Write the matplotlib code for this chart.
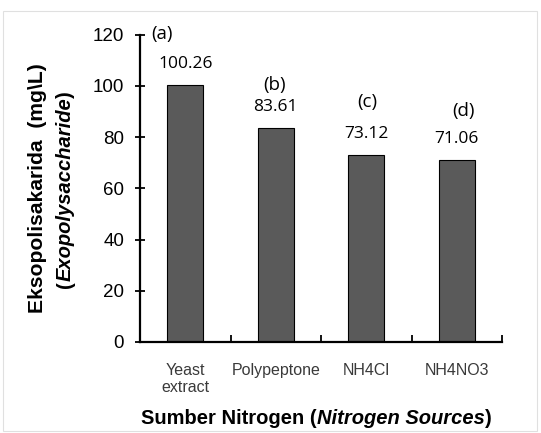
import matplotlib
matplotlib.use("Agg")
from matplotlib import pyplot as plt
import matplotlib.patches as mpatches

# data
sources = ["Yeast\nextract", "Polypeptone", "NH4Cl", "NH4NO3"]
eps_values = [100.26, 83.61, 73.12, 71.06]
value_labels = ["100.26", "83.61", "73.12", "71.06"]
group_letters = ["(a)", "(b)", "(c)", "(d)"]
y_ticks = [0, 20, 40, 60, 80, 100, 120]

# hand placed letters in the original (offsets in points from bar top)
letter_offsets = [(-17, 37), (-1, 31), (1, 38), (5, 35)]

W, H = 541, 433
fig = plt.figure(figsize=(W / 100, H / 100), dpi=100)


def fx(px):
    return px / W


def fy(py):
    return 1 - py / H


ax = fig.add_axes([fx(140), fy(342), fx(502) - fx(140), fy(34.5) - fy(342)])

x = list(range(len(sources)))
ax.bar(x, eps_values, width=0.4, color="#5a5a5a", edgecolor="black", linewidth=0.8)

ax.set_xlim(-0.5, len(sources) - 0.5)
ax.set_ylim(0, 120)
ax.set_yticks(y_ticks)
ax.set_yticklabels([str(t) for t in y_ticks], fontsize=13.5, family="Liberation Sans")
ax.tick_params(axis="y", direction="inout", length=7, width=1.3, pad=8)

ax.set_xticks(x)
ax.set_xticklabels(sources, fontsize=11.5, family="Liberation Sans", color="#3a3a3a")
ax.tick_params(axis="x", which="major", length=0, pad=15)
ax.set_xticks([i + 0.5 for i in x], minor=True)
ax.tick_params(axis="x", which="minor", direction="in", length=5, width=1.3)

for s in ["top", "right"]:
    ax.spines[s].set_visible(False)
for s in ["left", "bottom"]:
    ax.spines[s].set_linewidth(1.6)

for i, v in enumerate(eps_values):
    ax.annotate(value_labels[i], xy=(i, v), xytext=(0, 15), textcoords="offset points",
                ha="center", va="center", fontsize=12.5, family="Open Sans")
    dx, dy = letter_offsets[i]
    ax.annotate(group_letters[i], xy=(i, v), xytext=(dx, dy), textcoords="offset points",
                ha="center", va="center", fontsize=13.5, family="Open Sans")

# x axis title, bold with an italic part
lab = dict(family="Liberation Sans", weight="bold")
t1 = fig.text(fx(141), fy(419), "Sumber Nitrogen (", ha="left", va="center",
              fontsize=14.5, **lab)
t2 = ax.annotate("Nitrogen Sources", xy=(1, 0.5), xycoords=t1, ha="left", va="center",
                 style="italic", fontsize=14.5, **lab)
ax.annotate(")", xy=(1, 0.5), xycoords=t2, ha="left", va="center", fontsize=14.5, **lab)

# y axis title, two lines
fig.text(fx(38), fy(188), "Eksopolisakarida  (mg\\L)", rotation=90,
         ha="center", va="center", fontsize=15.2, **lab)
p1 = fig.text(fx(65), fy(288), "(", rotation=90, ha="center", va="bottom",
              fontsize=14.5, **lab)
p2 = ax.annotate("Exopolysaccharide", xy=(0.5, 1), xycoords=p1, rotation=90,
                 ha="center", va="bottom", style="italic", fontsize=14.5, **lab)
ax.annotate(")", xy=(0.5, 1), xycoords=p2, rotation=90, ha="center", va="bottom",
            fontsize=14.5, **lab)

# faint chart-area border
fig.patches.append(mpatches.Rectangle((fx(3), fy(431)), fx(537) - fx(3), fy(11) - fy(431),
                                      transform=fig.transFigure, fill=False,
                                      edgecolor="#e0e0e0", linewidth=0.8))

fig.savefig("out.png", dpi=100)
